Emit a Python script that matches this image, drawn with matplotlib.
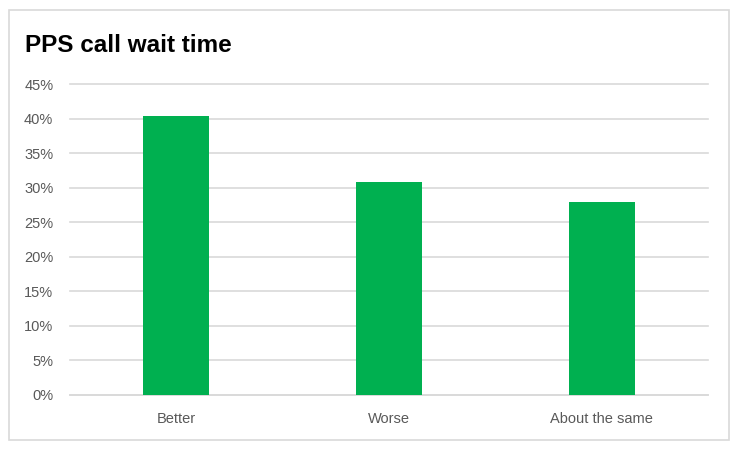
import matplotlib
matplotlib.use("Agg")
import matplotlib.pyplot as plt
from matplotlib.patches import Rectangle
from matplotlib.ticker import FuncFormatter

categories = ["Better", "Worse", "About the same"]
values = [0.403, 0.308, 0.279]
yticks = [0, 0.05, 0.10, 0.15, 0.20, 0.25, 0.30, 0.35, 0.40, 0.45]

plt.rcParams['font.family'] = ['Liberation Sans', 'DejaVu Sans']

W, H = 738, 451
fig = plt.figure(figsize=(W / 100, H / 100), dpi=100)
fig.patches.append(Rectangle((9 / W, 1 - 440 / H), 720 / W, 430 / H,
                             transform=fig.transFigure, fill=False,
                             edgecolor='#d9d9d9', linewidth=1.2))
ax = fig.add_axes([70 / W, 1 - 395 / H, 638 / W, 311 / H])
x = range(len(categories))
ax.bar(x, values, width=0.31, color='#00b050', zorder=3)
ax.set_xlim(-0.5, len(categories) - 0.5)
ax.set_ylim(0, 0.45)
ax.set_yticks(yticks)
ax.yaxis.set_major_formatter(FuncFormatter(lambda v, p: f"{v*100:.0f}%"))
ax.set_xticks(list(x))
ax.set_xticklabels(categories)
ax.grid(axis='y', color='#d9d9d9', linewidth=1.2, zorder=0)
for gl in ax.get_ygridlines():
    gl.set_clip_on(False)
for s in ['top', 'right', 'left']:
    ax.spines[s].set_visible(False)
ax.spines['bottom'].set_color('#d9d9d9')
ax.spines['bottom'].set_linewidth(1.2)
ax.tick_params(axis='both', length=0, colors='#595959', labelsize=10.5)
ax.tick_params(axis='y', pad=12)
ax.tick_params(axis='x', pad=12.5)
fig.text(25 / W, 1 - 46 / H, "PPS call wait time", fontsize=17.5,
         fontweight='bold', color='black', va='center', ha='left')
fig.savefig("out.png", dpi=100)
